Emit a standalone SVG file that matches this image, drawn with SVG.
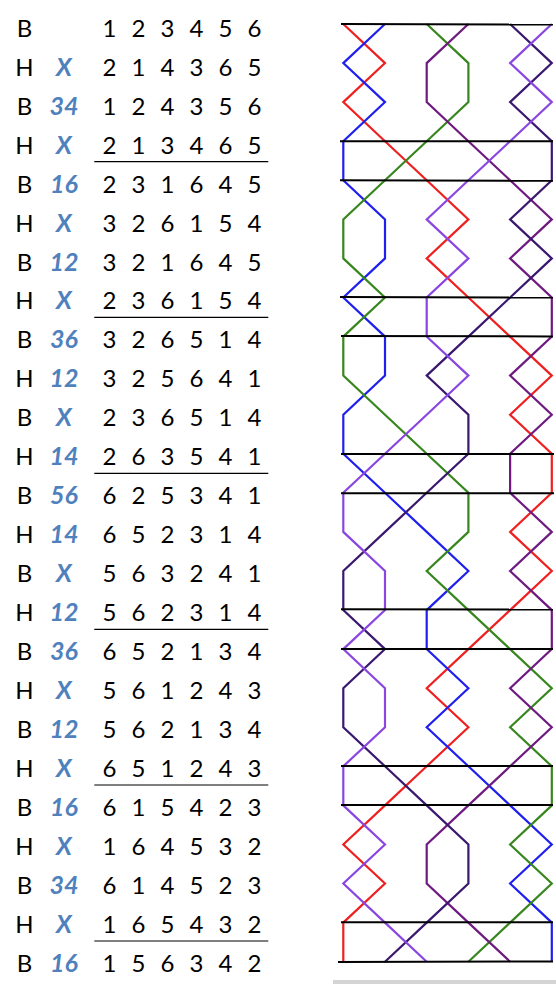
<svg xmlns="http://www.w3.org/2000/svg" width="556" height="986" viewBox="0 0 556 986">
<style>
text{font-family:Lato,"Open Sans","Liberation Sans",sans-serif;font-size:24px;text-anchor:middle;fill:#000}
.pn{font-weight:bold;font-style:italic;fill:#4f81bd;font-size:25px}
.ul{stroke:#000;stroke-width:1.2}
.bell{fill:none;stroke-width:2.2;stroke-linejoin:miter}
.b1{stroke:#ee2020}.b2{stroke:#2020ee}.b3{stroke:#38861e}.b4{stroke:#6e1a80}.b5{stroke:#3a1870}.b6{stroke:#8a46e0}
.hl{stroke:#000;stroke-width:2}
</style>
<rect width="556" height="986" fill="#fff"/>
<g id="table">
<g id="row0"><text x="24.5" y="36.7">B</text><text x="109.5 124 138.5 153 167.5 182 196.5 211 225.5 240 254.5" y="36.7">1 2 3 4 5 6</text></g>
<g id="row1"><text x="24.5" y="75.7">H</text><text class="pn" x="64" y="75.7">X</text><text x="109.5 124 138.5 153 167.5 182 196.5 211 225.5 240 254.5" y="75.7">2 1 4 3 6 5</text></g>
<g id="row2"><text x="24.5" y="114.6">B</text><text class="pn" x="64" y="114.6">34</text><text x="109.5 124 138.5 153 167.5 182 196.5 211 225.5 240 254.5" y="114.6">1 2 4 3 5 6</text></g>
<g id="row3"><text x="24.5" y="153.6">H</text><text class="pn" x="64" y="153.6">X</text><text x="109.5 124 138.5 153 167.5 182 196.5 211 225.5 240 254.5" y="153.6">2 1 3 4 6 5</text></g>
<g id="row4"><text x="24.5" y="192.5">B</text><text class="pn" x="64" y="192.5">16</text><text x="109.5 124 138.5 153 167.5 182 196.5 211 225.5 240 254.5" y="192.5">2 3 1 6 4 5</text></g>
<g id="row5"><text x="24.5" y="231.5">H</text><text class="pn" x="64" y="231.5">X</text><text x="109.5 124 138.5 153 167.5 182 196.5 211 225.5 240 254.5" y="231.5">3 2 6 1 5 4</text></g>
<g id="row6"><text x="24.5" y="270.5">B</text><text class="pn" x="64" y="270.5">12</text><text x="109.5 124 138.5 153 167.5 182 196.5 211 225.5 240 254.5" y="270.5">3 2 1 6 4 5</text></g>
<g id="row7"><text x="24.5" y="309.4">H</text><text class="pn" x="64" y="309.4">X</text><text x="109.5 124 138.5 153 167.5 182 196.5 211 225.5 240 254.5" y="309.4">2 3 6 1 5 4</text></g>
<g id="row8"><text x="24.5" y="348.4">B</text><text class="pn" x="64" y="348.4">36</text><text x="109.5 124 138.5 153 167.5 182 196.5 211 225.5 240 254.5" y="348.4">3 2 6 5 1 4</text></g>
<g id="row9"><text x="24.5" y="387.3">H</text><text class="pn" x="64" y="387.3">12</text><text x="109.5 124 138.5 153 167.5 182 196.5 211 225.5 240 254.5" y="387.3">3 2 5 6 4 1</text></g>
<g id="row10"><text x="24.5" y="426.3">B</text><text class="pn" x="64" y="426.3">X</text><text x="109.5 124 138.5 153 167.5 182 196.5 211 225.5 240 254.5" y="426.3">2 3 6 5 1 4</text></g>
<g id="row11"><text x="24.5" y="465.3">H</text><text class="pn" x="64" y="465.3">14</text><text x="109.5 124 138.5 153 167.5 182 196.5 211 225.5 240 254.5" y="465.3">2 6 3 5 4 1</text></g>
<g id="row12"><text x="24.5" y="504.2">B</text><text class="pn" x="64" y="504.2">56</text><text x="109.5 124 138.5 153 167.5 182 196.5 211 225.5 240 254.5" y="504.2">6 2 5 3 4 1</text></g>
<g id="row13"><text x="24.5" y="543.2">H</text><text class="pn" x="64" y="543.2">14</text><text x="109.5 124 138.5 153 167.5 182 196.5 211 225.5 240 254.5" y="543.2">6 5 2 3 1 4</text></g>
<g id="row14"><text x="24.5" y="582.1">B</text><text class="pn" x="64" y="582.1">X</text><text x="109.5 124 138.5 153 167.5 182 196.5 211 225.5 240 254.5" y="582.1">5 6 3 2 4 1</text></g>
<g id="row15"><text x="24.5" y="621.1">H</text><text class="pn" x="64" y="621.1">12</text><text x="109.5 124 138.5 153 167.5 182 196.5 211 225.5 240 254.5" y="621.1">5 6 2 3 1 4</text></g>
<g id="row16"><text x="24.5" y="660.1">B</text><text class="pn" x="64" y="660.1">36</text><text x="109.5 124 138.5 153 167.5 182 196.5 211 225.5 240 254.5" y="660.1">6 5 2 1 3 4</text></g>
<g id="row17"><text x="24.5" y="699">H</text><text class="pn" x="64" y="699">X</text><text x="109.5 124 138.5 153 167.5 182 196.5 211 225.5 240 254.5" y="699">5 6 1 2 4 3</text></g>
<g id="row18"><text x="24.5" y="738">B</text><text class="pn" x="64" y="738">12</text><text x="109.5 124 138.5 153 167.5 182 196.5 211 225.5 240 254.5" y="738">5 6 2 1 3 4</text></g>
<g id="row19"><text x="24.5" y="776.9">H</text><text class="pn" x="64" y="776.9">X</text><text x="109.5 124 138.5 153 167.5 182 196.5 211 225.5 240 254.5" y="776.9">6 5 1 2 4 3</text></g>
<g id="row20"><text x="24.5" y="815.9">B</text><text class="pn" x="64" y="815.9">16</text><text x="109.5 124 138.5 153 167.5 182 196.5 211 225.5 240 254.5" y="815.9">6 1 5 4 2 3</text></g>
<g id="row21"><text x="24.5" y="854.9">H</text><text class="pn" x="64" y="854.9">X</text><text x="109.5 124 138.5 153 167.5 182 196.5 211 225.5 240 254.5" y="854.9">1 6 4 5 3 2</text></g>
<g id="row22"><text x="24.5" y="893.8">B</text><text class="pn" x="64" y="893.8">34</text><text x="109.5 124 138.5 153 167.5 182 196.5 211 225.5 240 254.5" y="893.8">6 1 4 5 2 3</text></g>
<g id="row23"><text x="24.5" y="932.8">H</text><text class="pn" x="64" y="932.8">X</text><text x="109.5 124 138.5 153 167.5 182 196.5 211 225.5 240 254.5" y="932.8">1 6 5 4 3 2</text></g>
<g id="row24"><text x="24.5" y="971.7">B</text><text class="pn" x="64" y="971.7">16</text><text x="109.5 124 138.5 153 167.5 182 196.5 211 225.5 240 254.5" y="971.7">1 5 6 3 4 2</text></g>
<g id="underlines">
<line class="ul" x1="94.3" y1="161.7" x2="268.3" y2="161.7"/>
<line class="ul" x1="94.3" y1="317.3" x2="268.3" y2="317.3"/>
<line class="ul" x1="94.3" y1="473.3" x2="268.3" y2="473.3"/>
<line class="ul" x1="94.3" y1="629.3" x2="268.3" y2="629.3"/>
<line class="ul" x1="94.3" y1="785" x2="268.3" y2="785"/>
<line class="ul" x1="94.3" y1="941" x2="268.3" y2="941"/>
</g>
</g>
<g id="connectors">
<polyline id="bell1" class="bell b1" points="343.3,24 385,63.1 343.3,102.1 385,141.2 426.7,180.3 468.4,219.4 426.7,258.4 468.4,297.5 510.1,336.6 551.8,375.6 510.1,414.7 551.8,453.8 551.8,492.8 510.1,531.9 551.8,571 510.1,610.1 468.4,649.1 426.7,688.2 468.4,727.3 426.7,766.3 385,805.4 343.3,844.5 385,883.5 343.3,922.6 343.3,961.7"/>
<polyline id="bell2" class="bell b2" points="385,24 343.3,63.1 385,102.1 343.3,141.2 343.3,180.3 385,219.4 385,258.4 343.3,297.5 385,336.6 385,375.6 343.3,414.7 343.3,453.8 385,492.8 426.7,531.9 468.4,571 426.7,610.1 426.7,649.1 468.4,688.2 426.7,727.3 468.4,766.3 510.1,805.4 551.8,844.5 510.1,883.5 551.8,922.6 551.8,961.7"/>
<polyline id="bell3" class="bell b3" points="426.7,24 468.4,63.1 468.4,102.1 426.7,141.2 385,180.3 343.3,219.4 343.3,258.4 385,297.5 343.3,336.6 343.3,375.6 385,414.7 426.7,453.8 468.4,492.8 468.4,531.9 426.7,571 468.4,610.1 510.1,649.1 551.8,688.2 510.1,727.3 551.8,766.3 551.8,805.4 510.1,844.5 551.8,883.5 510.1,922.6 468.4,961.7"/>
<polyline id="bell4" class="bell b4" points="468.4,24 426.7,63.1 426.7,102.1 468.4,141.2 510.1,180.3 551.8,219.4 510.1,258.4 551.8,297.5 551.8,336.6 510.1,375.6 551.8,414.7 510.1,453.8 510.1,492.8 551.8,531.9 510.1,571 551.8,610.1 551.8,649.1 510.1,688.2 551.8,727.3 510.1,766.3 468.4,805.4 426.7,844.5 426.7,883.5 468.4,922.6 510.1,961.7"/>
<polyline id="bell5" class="bell b5" points="510.1,24 551.8,63.1 510.1,102.1 551.8,141.2 551.8,180.3 510.1,219.4 551.8,258.4 510.1,297.5 468.4,336.6 426.7,375.6 468.4,414.7 468.4,453.8 426.7,492.8 385,531.9 343.3,571 343.3,610.1 385,649.1 343.3,688.2 343.3,727.3 385,766.3 426.7,805.4 468.4,844.5 468.4,883.5 426.7,922.6 385,961.7"/>
<polyline id="bell6" class="bell b6" points="551.8,24 510.1,63.1 551.8,102.1 510.1,141.2 468.4,180.3 426.7,219.4 468.4,258.4 426.7,297.5 426.7,336.6 468.4,375.6 426.7,414.7 385,453.8 343.3,492.8 343.3,531.9 385,571 385,610.1 343.3,649.1 385,688.2 385,727.3 343.3,766.3 343.3,805.4 385,844.5 343.3,883.5 385,922.6 426.7,961.7"/>
</g>
<g id="leads">
<line class="hl" x1="341" y1="24" x2="553" y2="24.6"/>
<line class="hl" x1="340" y1="141.2" x2="553" y2="141.2"/>
<line class="hl" x1="340" y1="180.3" x2="553" y2="180.8"/>
<line class="hl" x1="340" y1="297.1" x2="553" y2="297.5"/>
<line class="hl" x1="341" y1="336" x2="553" y2="336.4"/>
<line class="hl" x1="341" y1="454" x2="554" y2="454"/>
<line class="hl" x1="341" y1="493.2" x2="554" y2="493.2"/>
<line class="hl" x1="341" y1="609.2" x2="553" y2="609.5"/>
<line class="hl" x1="341" y1="649" x2="553" y2="649"/>
<line class="hl" x1="341" y1="766" x2="553" y2="766"/>
<line class="hl" x1="341" y1="805" x2="553" y2="805"/>
<line class="hl" x1="341" y1="922.3" x2="553" y2="922.3"/>
<line class="hl" x1="338" y1="961.9" x2="553" y2="961.5"/>
</g>
<rect x="333" y="980" width="223" height="4" fill="#d4d4d4"/>
</svg>
